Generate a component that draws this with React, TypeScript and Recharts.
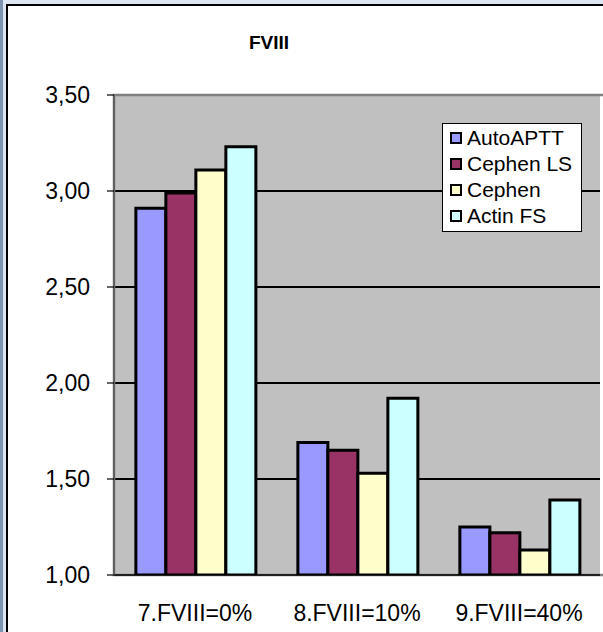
import React from "react";
import {
  BarChart,
  Bar,
  XAxis,
  YAxis,
  CartesianGrid,
  Legend,
  ReferenceArea,
} from "recharts";

const categories = ["7.FVIII=0%", "8.FVIII=10%", "9.FVIII=40%"];
const autoAPTT = [2.91, 1.69, 1.25];
const cephenLS = [2.99, 1.65, 1.22];
const cephen = [3.11, 1.53, 1.13];
const actinFS = [3.23, 1.92, 1.39];
const yTicks = [1.0, 1.5, 2.0, 2.5, 3.0, 3.5];
const boundaryTicks = [0, 1, 2, 3];

const seriesList = [
  { key: "autoAPTT", name: "AutoAPTT", values: autoAPTT, color: "#9999FF" },
  { key: "cephenLS", name: "Cephen LS", values: cephenLS, color: "#993366" },
  { key: "cephen", name: "Cephen", values: cephen, color: "#FFFFCC" },
  { key: "actinFS", name: "Actin FS", values: actinFS, color: "#CCFFFF" },
];

const data = categories.map((c, i) => {
  const row: Record<string, string | number> = { category: c };
  seriesList.forEach((s) => {
    row[s.key] = s.values[i];
  });
  return row;
});

const FONT = "'Liberation Sans', Arial, sans-serif";

const fmt = (v: number) => v.toFixed(2).replace(".", ",");

const renderLegend = () => {
  return (
    <div
      style={{
        background: "#fff",
        border: "1px solid #000",
        padding: "1px 8px 2px 7px",
        fontFamily: FONT,
        fontSize: 21,
        color: "#000",
        width: 123,
        boxSizing: "content-box",
      }}
    >
      {seriesList.map((s) => (
        <div
          key={s.key}
          style={{ display: "flex", alignItems: "center", height: 26, lineHeight: "26px" }}
        >
          <span
            style={{
              display: "inline-block",
              width: 8,
              height: 8,
              border: "2px solid #000",
              background: s.color,
              marginRight: 5,
            }}
          />
          <span>{s.name}</span>
        </div>
      ))}
    </div>
  );
};

export default function App() {
  return (
    <div
      style={{
        position: "absolute",
        left: 0,
        top: 0,
        width: 603,
        height: 632,
        overflow: "hidden",
        background: "#DCE6F2",
      }}
    >
      <div
        style={{
          position: "absolute",
          left: 0,
          top: 0,
          width: 3,
          height: 632,
          background: "#7F96B3",
        }}
      />
      <div
        style={{
          position: "absolute",
          left: 6,
          top: 4,
          width: 620,
          height: 650,
          background: "#fff",
          borderTop: "2px solid #000",
          borderLeft: "2px solid #000",
        }}
      />
      <div
        style={{
          position: "absolute",
          left: 169,
          top: 32,
          width: 200,
          textAlign: "center",
          fontFamily: FONT,
          fontWeight: "bold",
          fontSize: 19,
          color: "#000",
        }}
      >
        FVIII
      </div>
      <div style={{ position: "absolute", left: 0, top: 0 }}>
        <BarChart
          width={603}
          height={632}
          data={data}
          margin={{ top: 95, right: 3, bottom: 0, left: 0 }}
          barCategoryGap="13.5%"
          barGap={0}
        >
          <CartesianGrid
            vertical={false}
            stroke="#000"
            strokeWidth={1.2}
            fill="#C0C0C0"
            fillOpacity={1}
            shapeRendering="crispEdges"
          />
          <XAxis
            xAxisId="b"
            type="number"
            domain={[0, 3]}
            ticks={boundaryTicks}
            tick={false}
            tickLine={{ stroke: "#000", strokeWidth: 1.5 }}
            tickSize={7}
            axisLine={false}
            height={0}
            orientation="bottom"
          />
          <XAxis
            dataKey="category"
            type="category"
            height={57}
            axisLine={{ stroke: "#000", strokeWidth: 1.5 }}
            tickLine={false}
            tickSize={0}
            tickMargin={30}
            tick={{ fill: "#000", fontSize: 23, fontFamily: FONT }}
            interval={0}
          />
          <YAxis
            width={114}
            domain={[1, 3.5]}
            ticks={yTicks}
            allowDataOverflow
            tickFormatter={fmt}
            axisLine={{ stroke: "#555", strokeWidth: 1.5 }}
            tickLine={{ stroke: "#000", strokeWidth: 1.2 }}
            tickSize={7}
            tickMargin={17}
            tick={{ fill: "#000", fontSize: 23, fontFamily: FONT }}
          />
          <ReferenceArea
            xAxisId="b"
            x1={0}
            x2={3}
            y1={1}
            y2={3.5}
            fill="none"
            stroke="#808080"
            strokeWidth={2.5}
            ifOverflow="visible"
          />
          <Legend
            layout="horizontal"
            verticalAlign="middle"
            align="center"
            content={renderLegend}
            wrapperStyle={{ position: "absolute", left: 442, top: 123, width: "auto" }}
          />
          {seriesList.map((s) => (
            <Bar
              key={s.key}
              dataKey={s.key}
              name={s.name}
              fill={s.color}
              stroke="#000"
              strokeWidth={3}
              isAnimationActive={false}
            />
          ))}
        </BarChart>
      </div>
    </div>
  );
}
